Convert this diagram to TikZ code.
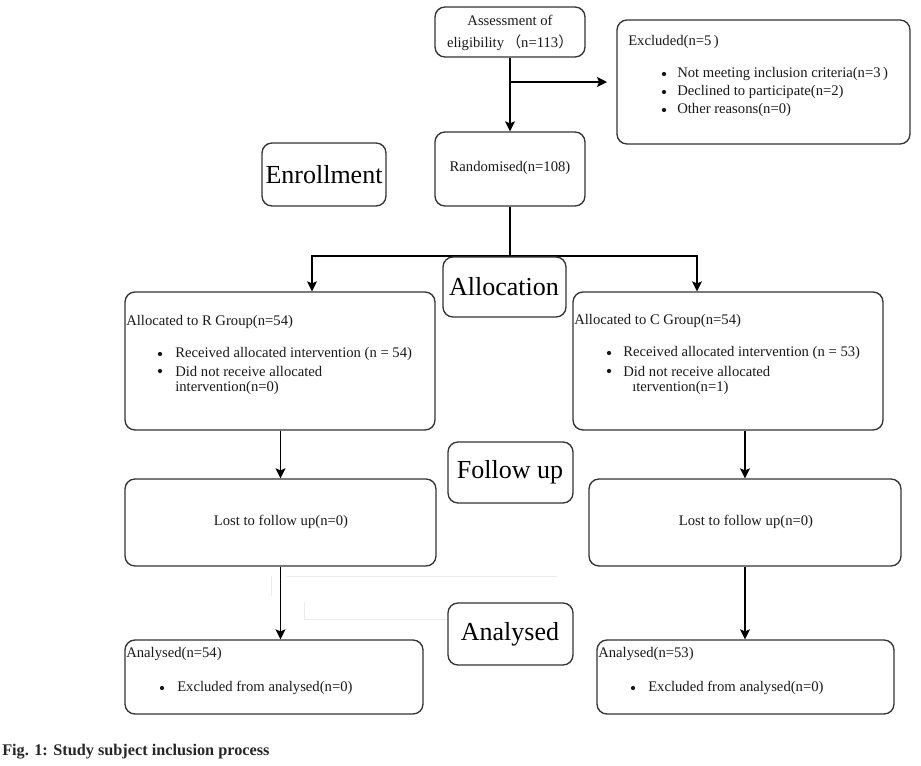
\documentclass[tikz,border=0pt]{standalone}
\usepackage{fontspec}
\setmainfont{Liberation Serif}
\newfontfamily\cjk{Noto Sans CJK SC}
\usetikzlibrary{arrows.meta,calc}
\tikzset{
  box/.style={draw=black!80, line width=1pt, rounded corners=7.5pt, fill=white, inner sep=0pt},
  txt/.style={font=\fontsize{11}{13}\selectfont, text=black!90, inner sep=0pt},
  big/.style={font=\fontsize{19.5}{22}\selectfont, text=black, inner sep=0pt},
  arr/.style={draw=black, line width=0.9pt, -{Stealth[length=7.5pt,width=7.5pt,inset=1.5pt]}},
  ln/.style={draw=black, line width=0.9pt},
  faint/.style={draw=black!8, line width=0.6pt},
  bul/.style={circle, fill=black!90, inner sep=0pt, minimum size=3.2pt}
}
\newcommand{\bx}[6][]{\node[box,#1, minimum width={(#5-#3)*0.75pt}, minimum height={(#6-#4)*0.75pt}] (#2) at ({(#3+#5)/2},{(#4+#6)/2}) {};}
\begin{document}
\begin{tikzpicture}[x=0.75pt,y=-0.75pt]
\useasboundingbox (0,0) rectangle (921,765);
% faint artefact lines
\draw[faint] (287,576) -- (557,576);
\draw[faint] (271,576) -- (271,596);
\draw[faint] (304,602) -- (304,619) -- (448,619);
% boxes
\bx{assess}{435}{7}{585}{57}
\bx{excl}{617}{20}{910}{144}
\bx{rand}{435}{132}{585}{206}
\bx{enrol}{262}{143}{386}{206}
\bx{rg}{125}{292}{435}{430}
\bx{cg}{573}{292}{883}{430}
\bx{follow}{448}{442}{573}{503}
\bx{lostr}{125}{479}{436}{566}
\bx{lostc}{589}{479}{901}{566}
\bx{anal}{448}{603}{573}{665}
\bx{anr}{125}{640}{423}{714}
\bx{anc}{597}{640}{894}{714}
% connectors
\coordinate (sl) at (312,256);
\coordinate (sr) at (697,256);
\draw[arr] (assess.south) -- (rand.north);
\draw[arr] (assess.south |- excl.west) -- ([xshift=-7pt]excl.west);
\draw[ln] (rand.south) -- (rand.south |- sl);
\draw[arr] (rand.south |- sl) -- (sl) -- (sl |- rg.north);
\draw[arr] (rand.south |- sr) -- (sr) -- (sr |- cg.north);
\bx{alloc}{443}{257}{566}{317}
\draw[arr] (lostr.north |- rg.south) -- (lostr.north);
\draw[arr] (lostr.south) -- (lostr.south |- anr.north);
\draw[arr] (lostc.north |- cg.south) -- (lostc.north);
\draw[arr] (lostc.south) -- (lostc.south |- anc.north);
% texts
\node[txt, align=center] (assesst) at (510,33) {Assessment of\\[3pt]eligibility\,{\cjk（}n=113{\cjk）}};
\node[txt, anchor=west] (exclt) at (628,42) {Excluded(n=5\,)};
\node[bul] (eb1) at (664,74) {}; \node[txt, anchor=west] (e1) at (677,74) {Not meeting inclusion criteria(n=3\,)};
\node[bul] (eb2) at (664,92) {}; \node[txt, anchor=west] (e2) at (677,92) {Declined to participate(n=2)};
\node[bul] (eb3) at (664,110) {}; \node[txt, anchor=west] (e3) at (677,110) {Other reasons(n=0)};
\node[txt] (randt) at (510,168) {Randomised(n=108)};
\node[big] (enrolt) at (324,175) {Enrollment};
\node[big] (alloct) at (504,287) {Allocation};
\node[big] (followt) at (510,472) {Follow up};
\node[big] (analt) at (510,634) {Analysed};
% R group
\node[txt, anchor=west] (rgt) at (126,322) {Allocated to R Group(n=54)};
\node[bul] (rb1) at (160,354) {}; \node[txt, anchor=west] (r1) at (175,354) {Received allocated intervention (n = 54)};
\node[bul] (rb2) at (160,371) {}; \node[txt, anchor=west] (r2) at (175,371) {Did not receive allocated};
\node[txt, anchor=west] (r3) at (175,388) {intervention(n=0)};
% C group
\node[txt, anchor=west] (cgt) at (574,321) {Allocated to C Group(n=54)};
\node[bul] (cb1) at (609,353) {}; \node[txt, anchor=west] (c1) at (623,353) {Received allocated intervention (n = 53)};
\node[bul] (cb2) at (609,371) {}; \node[txt, anchor=west] (c2) at (623,371) {Did not receive allocated};
\node[txt, anchor=west] (c3) at (632,388) {ıtervention(n=1)};
% lost
\node[txt] (lostrt) at (281,522) {Lost to follow up(n=0)};
\node[txt] (lostct) at (746,522) {Lost to follow up(n=0)};
% analysed
\node[txt, anchor=west] (anrt) at (126,654) {Analysed(n=54)};
\node[bul] (ab1) at (162,688) {}; \node[txt, anchor=west] (a1) at (177,688) {Excluded from analysed(n=0)};
\node[txt, anchor=west] (anct) at (598,654) {Analysed(n=53)};
\node[bul] (ab2) at (633,688) {}; \node[txt, anchor=west] (a2) at (648,688) {Excluded from analysed(n=0)};
% caption
\node[anchor=west, inner sep=0pt, font=\bfseries\fontsize{12.2}{14}\selectfont, text=black!85] (cap) at (2,752) {Fig. 1: Study subject inclusion process};
\end{tikzpicture}
\end{document}
